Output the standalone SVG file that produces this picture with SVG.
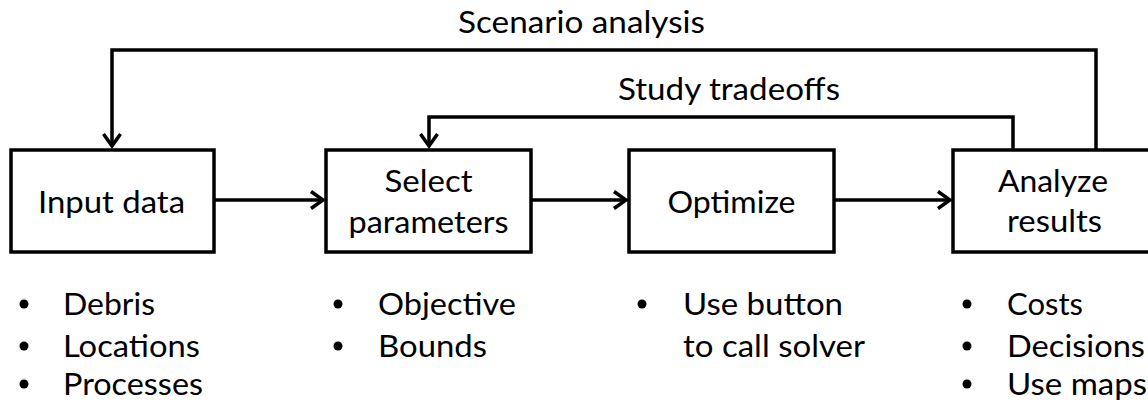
<svg xmlns="http://www.w3.org/2000/svg" width="1148" height="407" viewBox="0 0 1148 407">
  <style>
    .box { fill: #ffffff; stroke: #000000; stroke-width: 3.5; }
    .lbl { font-family: "Lato", "Open Sans", "Liberation Sans", sans-serif; font-size: 30px; fill: #000000; }
    .big { font-size: 31.5px; }
    .mid { text-anchor: middle; }
    .conn { fill: none; stroke: #000000; stroke-width: 3.5; }
    .dot { fill: #000000; }
  </style>
  <defs>
    <marker id="arr" viewBox="-16 -12 20 24" refX="0" refY="0" markerWidth="20" markerHeight="24" markerUnits="userSpaceOnUse" orient="auto">
      <path d="M-12,-8.5 L0,0 L-12,8.5" fill="none" stroke="#000000" stroke-width="3.5" stroke-linejoin="miter"/>
    </marker>
  </defs>
  <rect width="1148" height="407" fill="#ffffff"/>

  <g id="connectors">
    <path class="conn" d="M1096,151 V50 H112 V146" marker-end="url(#arr)"/>
    <path class="conn" d="M1013,151 V117 H429 V146" marker-end="url(#arr)"/>
    <path class="conn" d="M214,200 H323" marker-end="url(#arr)"/>
    <path class="conn" d="M531,200 H626" marker-end="url(#arr)"/>
    <path class="conn" d="M834,200 H950" marker-end="url(#arr)"/>
    <text class="lbl" x="458" y="33" textLength="247" lengthAdjust="spacingAndGlyphs">Scenario analysis</text>
    <text class="lbl" x="618" y="100" textLength="222" lengthAdjust="spacingAndGlyphs">Study tradeoffs</text>
  </g>

  <g id="input-data">
    <rect class="box" x="11" y="150" width="203" height="102"/>
    <text class="lbl" x="38" y="213" textLength="147" lengthAdjust="spacingAndGlyphs">Input data</text>
    <circle class="dot" cx="24" cy="304" r="4.5"/>
    <circle class="dot" cx="24" cy="346" r="4.5"/>
    <circle class="dot" cx="24" cy="384" r="4.5"/>
    <text class="lbl" x="63" y="315" textLength="92" lengthAdjust="spacingAndGlyphs">Debris</text>
    <text class="lbl" x="63" y="357" textLength="137" lengthAdjust="spacingAndGlyphs">Locations</text>
    <text class="lbl" x="63" y="395" textLength="140" lengthAdjust="spacingAndGlyphs">Processes</text>
  </g>

  <g id="select-parameters">
    <rect class="box" x="326" y="150" width="205" height="102"/>
    <text class="lbl big mid" x="428.5" y="192" textLength="88" lengthAdjust="spacingAndGlyphs">Select</text>
    <text class="lbl big mid" x="428.5" y="233" textLength="160" lengthAdjust="spacingAndGlyphs">parameters</text>
    <circle class="dot" cx="338" cy="304" r="4.5"/>
    <circle class="dot" cx="338" cy="346" r="4.5"/>
    <text class="lbl" x="378" y="315" textLength="138" lengthAdjust="spacingAndGlyphs">Objective</text>
    <text class="lbl" x="378" y="357" textLength="109" lengthAdjust="spacingAndGlyphs">Bounds</text>
  </g>

  <g id="optimize">
    <rect class="box" x="629" y="150" width="205" height="102"/>
    <text class="lbl big mid" x="731.5" y="213" textLength="128" lengthAdjust="spacingAndGlyphs">Optimize</text>
    <circle class="dot" cx="642" cy="304" r="4.5"/>
    <text class="lbl" x="683" y="315" textLength="160" lengthAdjust="spacingAndGlyphs">Use button</text>
    <text class="lbl" x="683" y="357" textLength="182" lengthAdjust="spacingAndGlyphs">to call solver</text>
  </g>

  <g id="analyze-results">
    <rect class="box" x="953" y="150" width="202" height="102"/>
    <text class="lbl big mid" x="1053" y="192" textLength="110" lengthAdjust="spacingAndGlyphs">Analyze</text>
    <text class="lbl big mid" x="1054.5" y="232" textLength="95" lengthAdjust="spacingAndGlyphs">results</text>
    <circle class="dot" cx="967" cy="304" r="4.5"/>
    <circle class="dot" cx="967" cy="346" r="4.5"/>
    <circle class="dot" cx="967" cy="384" r="4.5"/>
    <text class="lbl" x="1007" y="315" textLength="76" lengthAdjust="spacingAndGlyphs">Costs</text>
    <text class="lbl" x="1007" y="357" textLength="138" lengthAdjust="spacingAndGlyphs">Decisions</text>
    <text class="lbl" x="1007" y="395" textLength="140" lengthAdjust="spacingAndGlyphs">Use maps</text>
  </g>
</svg>
